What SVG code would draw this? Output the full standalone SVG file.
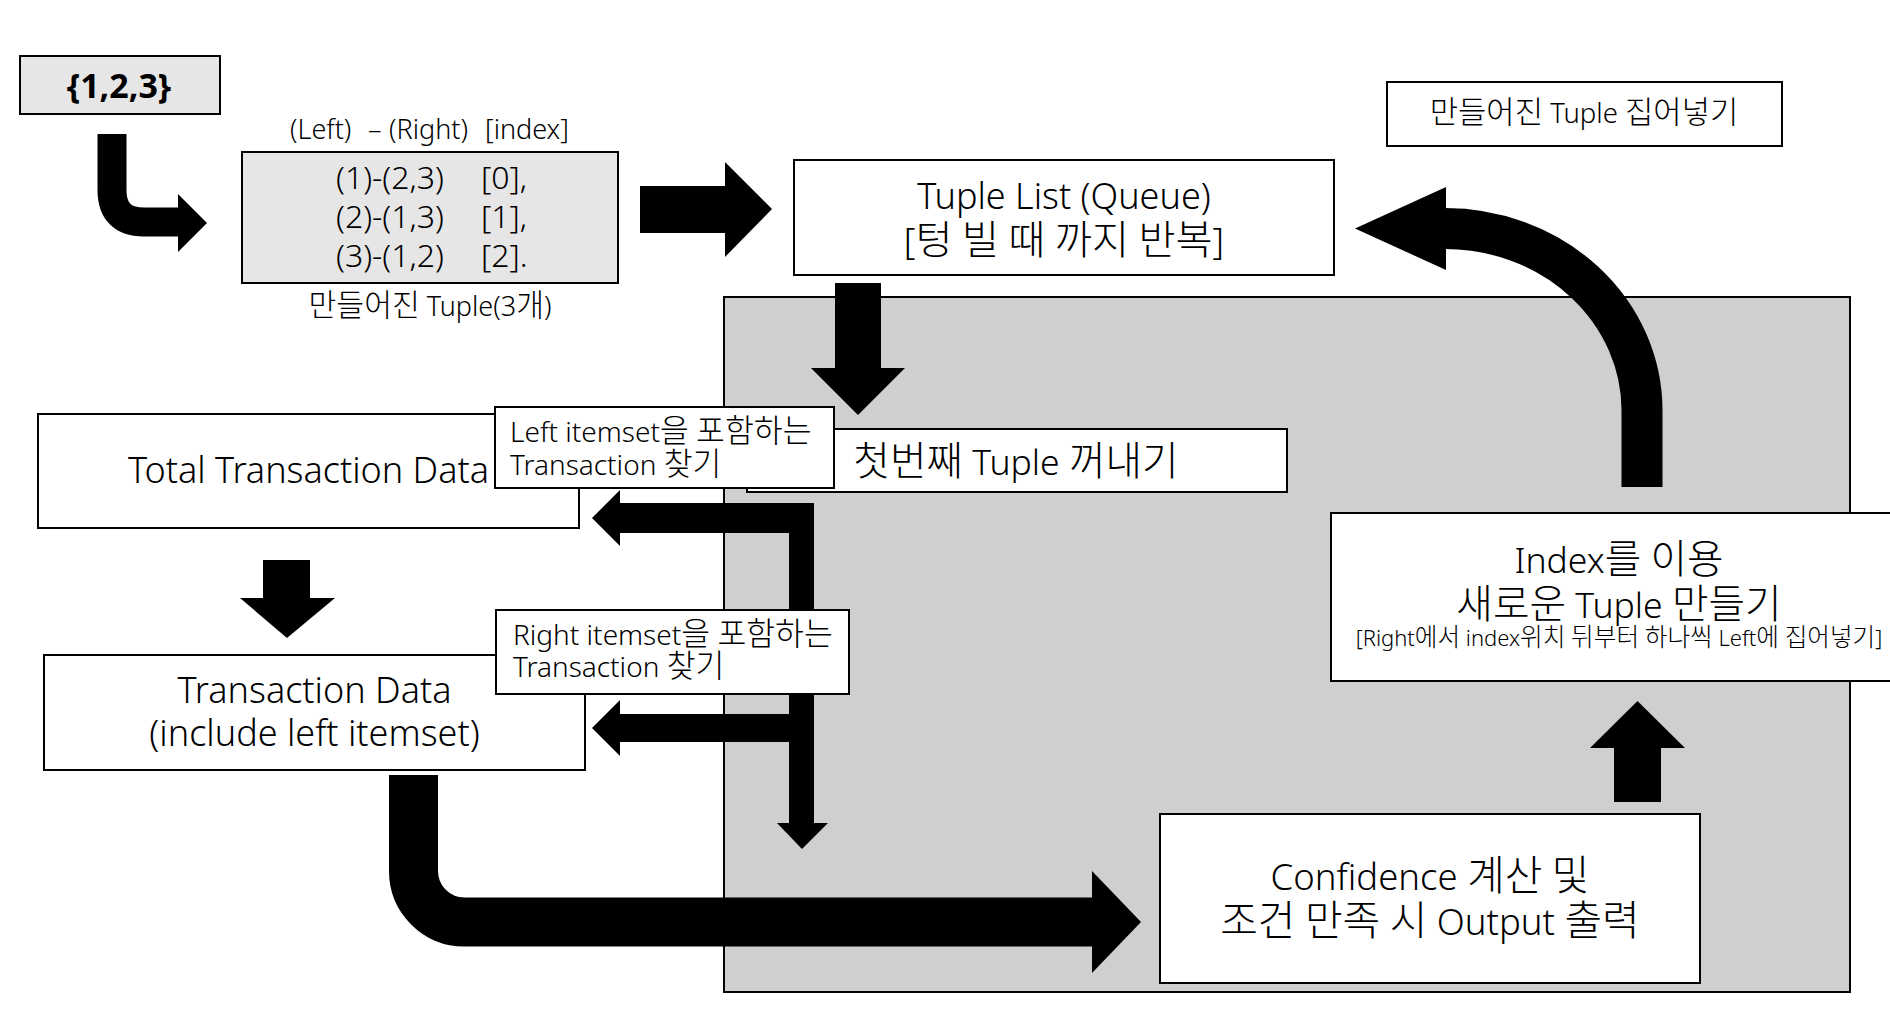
<svg xmlns="http://www.w3.org/2000/svg" width="1890" height="1019" viewBox="0 0 1890 1019">
<style>
.t{font-family:"Noto Sans","Noto Sans CJK KR",sans-serif;fill:#000;font-weight:300}
.k{font-family:"Noto Sans CJK KR",sans-serif;font-size:112%}
.c{text-anchor:middle}
.box{fill:#fff;stroke:#000;stroke-width:2}
.gbox{fill:#E7E6E6;stroke:#000;stroke-width:2}
.region{fill:#D0CECE;stroke:#000;stroke-width:2}
.ar{fill:#000;stroke:none}
.cv{fill:none;stroke:#000}
</style>
<rect width="1890" height="1019" fill="#fff"/>
<g id="loop-region"><rect class="region" x="724" y="297" width="1126" height="695"/></g>
<g id="connectors">
  <path class="cv" d="M112,134 V190 Q112,222 144,222 H180" stroke-width="29"/>
  <polygon class="ar" points="178,194 207,223 178,252"/>
  <rect class="ar" x="640" y="186" width="86" height="47"/>
  <polygon class="ar" points="725,162 772,209 725,257"/>
  <rect class="ar" x="835" y="283" width="46" height="86"/>
  <polygon class="ar" points="811,368 905,368 858,415"/>
  <rect class="ar" x="619" y="503" width="195" height="30"/>
  <polygon class="ar" points="620,490 592,518 620,546"/>
  <rect class="ar" x="789" y="503" width="25" height="321"/>
  <polygon class="ar" points="777,823 828,823 802,849"/>
  <rect class="ar" x="619" y="714" width="180" height="28"/>
  <polygon class="ar" points="620,700 592,728 620,756"/>
  <rect class="ar" x="263" y="560" width="47" height="39"/>
  <polygon class="ar" points="240,598 335,598 287,638"/>
  <path class="cv" d="M413.5,775 V871 A51,51 0 0 0 464.5,922 H1093" stroke-width="49"/>
  <polygon class="ar" points="1092,871 1141,922 1092,973"/>
  <rect class="ar" x="1614" y="747" width="47" height="55"/>
  <polygon class="ar" points="1590,748 1685,748 1637.5,701"/>
  <path class="cv" d="M1642,487 V410 A197,182 0 0 0 1445,228.5" stroke-width="41"/>
  <polygon class="ar" points="1446,187 1355,228.5 1446,270"/>
</g>
<g id="set-node">
  <rect class="gbox" x="20" y="56" width="200" height="58"/>
  <text class="t c" x="119" y="98" font-size="34" style="font-weight:bold">{1,2,3}</text>
</g>
<g id="tuples-node">
  <text class="t" y="139" font-size="27"><tspan x="290">(Left)</tspan><tspan x="368">–</tspan><tspan x="389">(Right)</tspan><tspan x="485">[index]</tspan></text>
  <rect class="gbox" x="242" y="152" width="376" height="131"/>
  <text class="t" font-size="32"><tspan x="336" y="189">(1)-(2,3)</tspan><tspan x="481" y="189">[0],</tspan><tspan x="336" y="228">(2)-(1,3)</tspan><tspan x="481" y="228">[1],</tspan><tspan x="336" y="267">(3)-(1,2)</tspan><tspan x="481" y="267">[2].</tspan></text>
  <text class="t c" x="430" y="316" font-size="27"><tspan class="k">만들어진</tspan> Tuple(3<tspan class="k">개</tspan>)</text>
</g>
<g id="tuple-list-node">
  <rect class="box" x="794" y="160" width="540" height="115"/>
  <text class="t c" x="1064" y="209" font-size="36">Tuple List (Queue)</text>
  <text class="t c" x="1064" y="254" font-size="36">[<tspan class="k">텅</tspan> <tspan class="k">빌</tspan> <tspan class="k">때</tspan> <tspan class="k">까지</tspan> <tspan class="k">반복</tspan>]</text>
</g>
<g id="insert-label-node">
  <rect class="box" x="1387" y="82" width="395" height="64"/>
  <text class="t c" x="1584" y="123" font-size="27.5"><tspan class="k">만들어진</tspan> Tuple <tspan class="k">집어넣기</tspan></text>
</g>
<g id="pop-node">
  <rect class="box" x="747" y="429" width="540" height="63"/>
  <text class="t c" x="1016" y="475" font-size="35.5"><tspan class="k">첫번째</tspan> Tuple <tspan class="k">꺼내기</tspan></text>
</g>
<g id="total-transaction-node">
  <rect class="box" x="38" y="414" width="541" height="114"/>
  <text class="t c" x="308.5" y="483" font-size="36">Total Transaction Data</text>
</g>
<g id="transaction-data-node">
  <rect class="box" x="44" y="655" width="541" height="115"/>
  <text class="t c" x="314.5" y="703" font-size="36">Transaction Data</text>
  <text class="t c" x="314.5" y="746" font-size="36">(include left itemset)</text>
</g>
<g id="left-itemset-label">
  <rect class="box" x="495" y="407" width="339" height="81"/>
  <text class="t" x="510" y="442" font-size="28">Left itemset<tspan class="k">을</tspan> <tspan class="k">포함하는</tspan></text>
  <text class="t" x="510" y="475" font-size="28">Transaction <tspan class="k">찾기</tspan></text>
</g>
<g id="right-itemset-label">
  <rect class="box" x="496" y="610" width="353" height="84"/>
  <text class="t" x="513" y="645" font-size="28">Right itemset<tspan class="k">을</tspan> <tspan class="k">포함하는</tspan></text>
  <text class="t" x="513" y="677" font-size="28">Transaction <tspan class="k">찾기</tspan></text>
</g>
<g id="new-tuple-node">
  <rect class="box" x="1331" y="513" width="576" height="168"/>
  <text class="t c" x="1619" y="573" font-size="35.5">Index<tspan class="k">를</tspan> <tspan class="k">이용</tspan></text>
  <text class="t c" x="1619" y="618" font-size="35.5"><tspan class="k">새로운</tspan> Tuple <tspan class="k">만들기</tspan></text>
  <text class="t c" x="1619" y="646" font-size="22">[Right<tspan class="k">에서</tspan> index<tspan class="k">위치</tspan> <tspan class="k">뒤부터</tspan> <tspan class="k">하나씩</tspan> Left<tspan class="k">에</tspan> <tspan class="k">집어넣기</tspan>]</text>
</g>
<g id="confidence-node">
  <rect class="box" x="1160" y="814" width="540" height="169"/>
  <text class="t c" x="1430" y="890" font-size="36.5">Confidence <tspan class="k">계산</tspan> <tspan class="k">및</tspan></text>
  <text class="t c" x="1430" y="935" font-size="36.5"><tspan class="k">조건</tspan> <tspan class="k">만족</tspan> <tspan class="k">시</tspan> Output <tspan class="k">출력</tspan></text>
</g>
</svg>
